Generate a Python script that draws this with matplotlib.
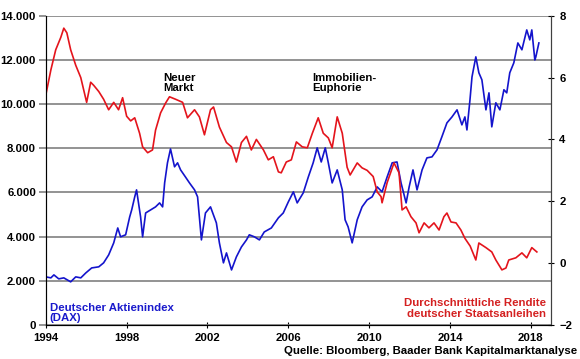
import matplotlib.pyplot as plt

plt.rcParams['font.family'] = ['Liberation Sans', 'DejaVu Sans']

# DAX (left axis)
dax_years = [1994.0, 1994.25, 1994.4, 1994.64, 1994.89, 1995.23, 1995.48, 1995.73, 1995.98,
             1996.27, 1996.62, 1996.86, 1997.11, 1997.36, 1997.56, 1997.7, 1997.95, 1998.15,
             1998.25, 1998.4, 1998.49, 1998.69, 1998.79, 1998.94, 1999.19, 1999.43, 1999.63,
             1999.78, 1999.88, 2000.02, 2000.17, 2000.37, 2000.52, 2000.67, 2000.91, 2001.11,
             2001.36, 2001.51, 2001.7, 2001.9, 2002.15, 2002.44, 2002.59, 2002.79, 2002.94,
             2003.19, 2003.43, 2003.68, 2003.93, 2004.07, 2004.32, 2004.57, 2004.81, 2005.16,
             2005.51, 2005.75, 2006.0, 2006.25, 2006.44, 2006.74, 2006.99, 2007.23, 2007.43,
             2007.63, 2007.83, 2007.98, 2008.17, 2008.42, 2008.67, 2008.81, 2008.96, 2009.16,
             2009.41, 2009.65, 2009.9, 2010.15, 2010.4, 2010.64, 2010.89, 2011.14, 2011.38,
             2011.58, 2011.83, 2011.98, 2012.17, 2012.37, 2012.62, 2012.86, 2013.11, 2013.36,
             2013.6, 2013.85, 2014.1, 2014.35, 2014.59, 2014.74, 2014.84, 2014.99, 2015.09,
             2015.28, 2015.43, 2015.58, 2015.78, 2015.93, 2016.07, 2016.27, 2016.47, 2016.67,
             2016.81, 2016.96, 2017.16, 2017.36, 2017.56, 2017.8, 2017.95, 2018.05, 2018.2,
             2018.25, 2018.4]
dax = [2175, 2130, 2265, 2085, 2130, 1950, 2175, 2130, 2355,
       2580, 2630, 2810, 3170, 3715, 4390, 3990, 4080, 4890,
       5210, 5800, 6115, 4890, 3990, 5070, 5210, 5345, 5525,
       5345, 6430, 7340, 7970, 7160, 7340, 7020, 6700, 6430,
       6115, 5800, 3850, 5070, 5345, 4620, 3715, 2810, 3260,
       2490, 3080, 3530, 3850, 4080, 3990, 3850, 4210, 4390,
       4850, 5070, 5570, 6025, 5525, 5980, 6700, 7340, 8020,
       7380, 8020, 7340, 6430, 7020, 6115, 4760, 4440, 3715,
       4760, 5345, 5660, 5800, 6250, 6025, 6700, 7340, 7380,
       6430, 5525, 6250, 7020, 6115, 7020, 7565, 7610, 7930,
       8520, 9150, 9420, 9740, 9060, 9420, 8830, 10190, 11230,
       12140, 11420, 11100, 9740, 10510, 8970, 10060, 9740, 10650,
       10510, 11420, 11870, 12770, 12460, 13360, 12910, 13360, 12000,
       12140, 12770]

# average yield of German government bonds (right axis, %)
yld_years = [1994.0, 1994.25, 1994.49, 1994.74, 1994.89, 1995.04, 1995.23, 1995.48, 1995.73,
             1996.02, 1996.22, 1996.37, 1996.62, 1996.86, 1997.11, 1997.36, 1997.6, 1997.8,
             1998.0, 1998.2, 1998.4, 1998.64, 1998.79, 1999.04, 1999.28, 1999.43, 1999.68,
             1999.93, 2000.12, 2000.42, 2000.77, 2001.01, 2001.36, 2001.6, 2001.85, 2002.15,
             2002.3, 2002.59, 2002.94, 2003.19, 2003.43, 2003.68, 2003.93, 2004.17, 2004.42,
             2004.77, 2005.01, 2005.26, 2005.51, 2005.65, 2005.9, 2006.15, 2006.4, 2006.69,
             2006.94, 2007.19, 2007.48, 2007.73, 2007.98, 2008.17, 2008.42, 2008.67, 2008.91,
             2009.06, 2009.41, 2009.65, 2009.9, 2010.2, 2010.4, 2010.59, 2010.64, 2010.89,
             2011.23, 2011.48, 2011.63, 2011.83, 2012.07, 2012.32, 2012.47, 2012.72, 2012.96,
             2013.21, 2013.46, 2013.7, 2013.85, 2014.05, 2014.3, 2014.54, 2014.74, 2015.0,
             2015.28, 2015.43, 2015.78, 2016.07, 2016.27, 2016.57, 2016.77, 2016.91, 2017.26,
             2017.56, 2017.8, 2018.05, 2018.3]
yld = [5.44, 6.25, 6.9, 7.3, 7.6, 7.45, 6.9, 6.4, 6.0,
       5.2, 5.85, 5.75, 5.55, 5.3, 4.96, 5.2, 4.96, 5.35,
       4.75, 4.6, 4.7, 4.2, 3.76, 3.57, 3.66, 4.3, 4.86,
       5.18, 5.38, 5.3, 5.2, 4.7, 4.96, 4.73, 4.15, 4.96,
       5.05, 4.4, 3.9, 3.76, 3.27, 3.9, 4.1, 3.66, 4.0,
       3.66, 3.34, 3.44, 2.95, 2.92, 3.27, 3.34, 3.92, 3.76,
       3.73, 4.2, 4.7, 4.2, 4.05, 3.73, 4.73, 4.2, 3.1,
       2.85, 3.24, 3.08, 3.0, 2.8, 2.3, 2.15, 1.95, 2.6,
       3.24, 2.92, 1.72, 1.82, 1.5, 1.3, 0.98, 1.3, 1.14,
       1.3, 1.07, 1.5, 1.62, 1.33, 1.3, 1.07, 0.8, 0.55,
       0.1, 0.65, 0.5, 0.36, 0.1, -0.22, -0.16, 0.1, 0.17,
       0.33, 0.17, 0.5, 0.36]

year_ticks = [1994, 1998, 2002, 2006, 2010, 2014, 2018]
dax_ticks = [0, 2000, 4000, 6000, 8000, 10000, 12000, 14000]
dax_labels = ['0', '2.000', '4.000', '6.000', '8.000', '10.000', '12.000', '14.000']
yld_ticks = [-2, 0, 2, 4, 6, 8]

blue = '#1414CC'
red = '#E4141C'
fs = 8.2

fig = plt.figure(figsize=(5.8, 3.59), dpi=100)
ax = fig.add_axes([0.079, 0.095, 0.871, 0.861])
ax.plot(dax_years, dax, color=blue, lw=1.2)
ax.set_xlim(1994, 2019)
ax.set_ylim(0, 14000)
ax.set_xticks(year_ticks)
ax.set_yticks(dax_ticks)
ax.set_yticklabels(dax_labels)
ax.grid(axis='y', color='#808080', lw=1.2)
ax.set_axisbelow(True)
ax.tick_params(axis='y', length=5, color='#808080', width=1.2, labelsize=fs, pad=2)
ax.tick_params(axis='x', direction='inout', length=4, labelsize=fs)
for lab in ax.get_xticklabels() + ax.get_yticklabels():
    lab.set_fontweight('bold')
ax.spines['top'].set_visible(False)
for s in ['left', 'bottom', 'right']:
    ax.spines[s].set_color('#404040')

ax2 = ax.twinx()
ax2.plot(yld_years, yld, color=red, lw=1.2)
ax2.set_ylim(-2, 8)
ax2.set_yticks(yld_ticks)
ax2.tick_params(axis='y', direction='inout', length=5, labelsize=fs)
for lab in ax2.get_yticklabels():
    lab.set_fontweight('bold')
ax2.spines['top'].set_visible(False)
ax2.spines['right'].set_color('#404040')

ax.text(1999.83, 10500, 'Neuer\nMarkt', fontsize=fs, fontweight='bold',
        va='bottom', ha='left', linespacing=1.05)
ax.text(2007.2, 10500, 'Immobilien-\nEuphorie', fontsize=fs, fontweight='bold',
        va='bottom', ha='left', linespacing=1.05)
ax.text(0.008, 0.005, 'Deutscher Aktienindex\n(DAX)', transform=ax.transAxes,
        color='#1A1ACC', fontsize=fs, fontweight='bold', va='bottom', ha='left',
        linespacing=1.05)
ax.text(0.99, 0.02, 'Durchschnittliche Rendite\ndeutscher Staatsanleihen',
        transform=ax.transAxes, color='#D42020', fontsize=fs, fontweight='bold',
        va='bottom', ha='right', linespacing=1.05)
fig.text(0.995, 0.008, 'Quelle: Bloomberg, Baader Bank Kapitalmarktanalyse',
         fontsize=fs, fontweight='bold', ha='right', va='bottom')

fig.savefig('out.png', dpi=100)
